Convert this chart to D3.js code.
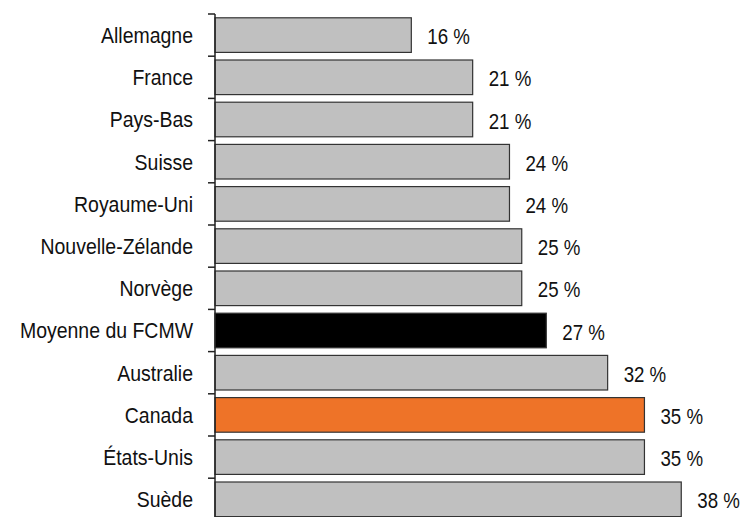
<!DOCTYPE html>
<html>
<head>
<meta charset="utf-8">
<script src="https://cdn.jsdelivr.net/npm/d3@7"></script>
<style>
  html, body { margin: 0; padding: 0; background: #fff; }
  svg { display: block; }
  text { font-family: "Liberation Sans", Arial, sans-serif; fill: #111; }
</style>
</head>
<body>
<svg id="chart" width="744" height="517"></svg>
<script>
// Share of each country, in percent
const countries = ["Allemagne", "France", "Pays-Bas", "Suisse", "Royaume-Uni",
  "Nouvelle-Zélande", "Norvège", "Moyenne du FCMW", "Australie", "Canada",
  "États-Unis", "Suède"];
const shares = [16, 21, 21, 24, 24, 25, 25, 27, 32, 35, 35, 38];
const highlightAverage = "Moyenne du FCMW";
const highlightCountry = "Canada";

(function draw() {
  const svg = d3.select("#chart");
  const fontSize = 22;
  const squeezeName = 0.885;
  const squeezeValue = 0.85;

  const axisX = 215;
  const plotTop = 14;
  const step = 42.2;

  const y = d3.scaleBand()
    .domain(countries)
    .range([plotTop, plotTop + step * countries.length])
    .paddingInner(0.18)
    .paddingOuter(0.09);

  const x = d3.scaleLinear()
    .domain([0, 40])
    .range([axisX, axisX + 40 * 12.27]);

  const fillFor = d => d === highlightAverage ? "#000000"
    : d === highlightCountry ? "#ee7328" : "#c0c0c0";

  const rows = countries.map((c, i) => ({ name: c, value: shares[i] }));

  // bars
  svg.append("g").selectAll("rect")
    .data(rows)
    .join("rect")
    .attr("x", x(0))
    .attr("y", d => y(d.name))
    .attr("width", d => x(d.value) - x(0))
    .attr("height", y.bandwidth())
    .attr("fill", d => fillFor(d.name))
    .attr("stroke", "#333")
    .attr("stroke-width", 1.2);

  // category axis: vertical line with ticks between bands
  const axis = svg.append("g").attr("stroke", "#222").attr("stroke-width", 1.5);
  axis.append("line")
    .attr("x1", axisX).attr("x2", axisX)
    .attr("y1", plotTop).attr("y2", 517);
  axis.selectAll("line.tick")
    .data(countries)
    .join("line")
    .attr("class", "tick")
    .attr("x1", axisX - 7).attr("x2", axisX)
    .attr("y1", d => y(d) - y.step() * y.paddingInner() / 2)
    .attr("y2", d => y(d) - y.step() * y.paddingInner() / 2);

  // category labels
  svg.append("g").selectAll("text")
    .data(rows)
    .join("text")
    .attr("transform", d => `translate(${axisX - 22},${y(d.name) + y.bandwidth() / 2}) scale(${squeezeName},1)`)
    .attr("text-anchor", "end")
    .attr("dominant-baseline", "central")
    .style("font-size", fontSize + "px")
    .text(d => d.name);

  // value labels
  svg.append("g").selectAll("text")
    .data(rows)
    .join("text")
    .attr("transform", d => `translate(${x(d.value) + 16},${y(d.name) + y.bandwidth() / 2 + 1.5}) scale(${squeezeValue},1)`)
    .attr("text-anchor", "start")
    .attr("dominant-baseline", "central")
    .style("font-size", fontSize + "px")
    .text(d => d.value + " %");
})();
</script>
</body>
</html>
